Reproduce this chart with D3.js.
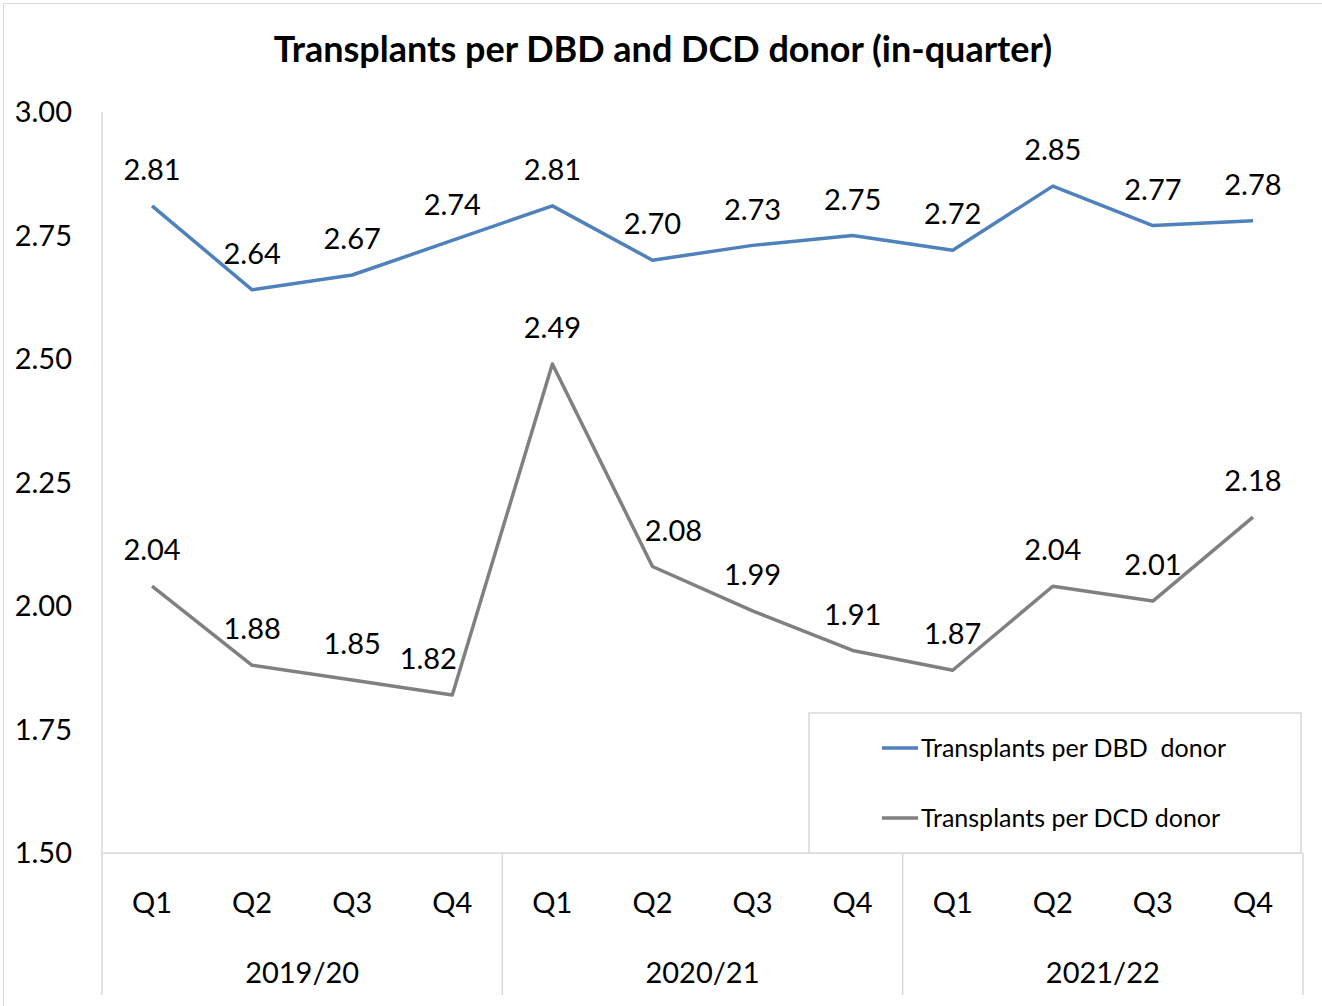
<!DOCTYPE html>
<html>
<head>
<meta charset="utf-8">
<script src="https://cdn.jsdelivr.net/npm/d3@7"></script>
<style>
  body { margin: 0; background: #fff; }
  svg text { font-family: Lato, "Open Sans", sans-serif; fill: #000; }
</style>
</head>
<body>
<div id="chart"></div>
<script>
// data
const years = ["2019/20", "2020/21", "2021/22"];
const quarters = ["Q1", "Q2", "Q3", "Q4"];
const dbdValues = [2.81, 2.64, 2.67, 2.74, 2.81, 2.70, 2.73, 2.75, 2.72, 2.85, 2.77, 2.78];
const dcdValues = [2.04, 1.88, 1.85, 1.82, 2.49, 2.08, 1.99, 1.91, 1.87, 2.04, 2.01, 2.18];
const yTicks = [1.50, 1.75, 2.00, 2.25, 2.50, 2.75, 3.00];
const seriesNames = ["Transplants per DBD  donor", "Transplants per DCD donor"];

const W = 1322, H = 1006;
const plot = { left: 102, right: 1303, top: 112, bottom: 853 };

const keys = [];
years.forEach(y => quarters.forEach(q => keys.push(y + " " + q)));

const svg = d3.select("#chart").append("svg")
    .attr("width", W)
    .attr("height", H);

// outer chart frame
svg.append("rect")
   .attr("x", 3.5).attr("y", 3.5)
   .attr("width", W + 10).attr("height", H + 10)
   .style("fill", "none")
   .style("stroke", "#d9d9d9")
   .style("stroke-width", 1);

const x = d3.scaleBand().domain(keys).range([plot.left, plot.right]);
const y = d3.scaleLinear().domain([1.5, 3.0]).range([plot.bottom, plot.top]);

// title
svg.append("text")
   .attr("x", 663).attr("y", 62)
   .attr("text-anchor", "middle")
   .style("font-size", "36px")
   .style("font-weight", "bold")
   .text("Transplants per DBD and DCD donor (in-quarter)");

// y axis labels (no grid)
svg.append("g").selectAll("text")
   .data(yTicks).enter().append("text")
   .attr("x", 72)
   .attr("y", d => y(d))
   .attr("dy", "0.35em")
   .attr("text-anchor", "end")
   .style("font-size", "29px")
   .text(d => d.toFixed(2));

// axis lines
const lineColor = "#d9d9d9";
svg.append("line")
   .attr("x1", plot.left).attr("x2", plot.left)
   .attr("y1", plot.top).attr("y2", 995)
   .style("stroke", lineColor).style("stroke-width", 1.5);
svg.append("line")
   .attr("x1", plot.left).attr("x2", plot.right)
   .attr("y1", plot.bottom).attr("y2", plot.bottom)
   .style("stroke", lineColor).style("stroke-width", 1.5);

// year separators
svg.append("g").selectAll("line")
   .data(years).enter().append("line")
   .attr("x1", (d, i) => x(keys[i * 4 + 3]) + x.bandwidth())
   .attr("x2", (d, i) => x(keys[i * 4 + 3]) + x.bandwidth())
   .attr("y1", plot.bottom).attr("y2", 995)
   .style("stroke", lineColor).style("stroke-width", 1.5);

// quarter labels
svg.append("g").selectAll("text")
   .data(keys).enter().append("text")
   .attr("x", d => x(d) + x.bandwidth() / 2)
   .attr("y", 903)
   .attr("dy", "0.35em")
   .attr("text-anchor", "middle")
   .style("font-size", "29px")
   .text(d => d.split(" ")[1]);

// year labels
svg.append("g").selectAll("text")
   .data(years).enter().append("text")
   .attr("x", (d, i) => (x(keys[i * 4]) + x(keys[i * 4 + 3]) + x.bandwidth()) / 2)
   .attr("y", 973)
   .attr("dy", "0.35em")
   .attr("text-anchor", "middle")
   .style("font-size", "29px")
   .text(d => d);

// lines
const series = [
  { name: seriesNames[0], values: dbdValues, color: "#4f81bd" },
  { name: seriesNames[1], values: dcdValues, color: "#808080" }
];

const line = d3.line()
   .x((d, i) => x(keys[i]) + x.bandwidth() / 2)
   .y(d => y(d));

// a couple of labels were nudged sideways in the original
const labelShift = (s, i) => {
  if (s === series[1] && i === 3) return -24;
  if (s === series[1] && i === 5) return 21;
  return 0;
};

series.forEach(s => {
  svg.append("path")
     .datum(s.values)
     .attr("d", line)
     .style("fill", "none")
     .style("stroke", s.color)
     .style("stroke-width", 3.5)
     .style("stroke-linejoin", "round");

  svg.append("g").selectAll("text")
     .data(s.values).enter().append("text")
     .attr("x", (d, i) => x(keys[i]) + x.bandwidth() / 2 + labelShift(s, i))
     .attr("y", d => y(d) - 36)
     .attr("dy", "0.35em")
     .attr("text-anchor", "middle")
     .style("font-size", "29px")
     .text(d => d.toFixed(2));
});

// legend
const legend = svg.append("g").attr("transform", "translate(809,713)");
legend.append("rect")
      .attr("width", 492).attr("height", 140)
      .style("fill", "#fff")
      .style("stroke", lineColor)
      .style("stroke-width", 1.5);

series.forEach((s, i) => {
  const ly = 35 + i * 70;
  legend.append("line")
        .attr("x1", 73).attr("x2", 109)
        .attr("y1", ly).attr("y2", ly)
        .style("stroke", s.color)
        .style("stroke-width", 3.5);
  legend.append("text")
        .attr("x", 112).attr("y", ly)
        .attr("dy", "0.35em")
        .style("font-size", "25px")
        .style("white-space", "pre")
        .text(s.name);
});
</script>
</body>
</html>
